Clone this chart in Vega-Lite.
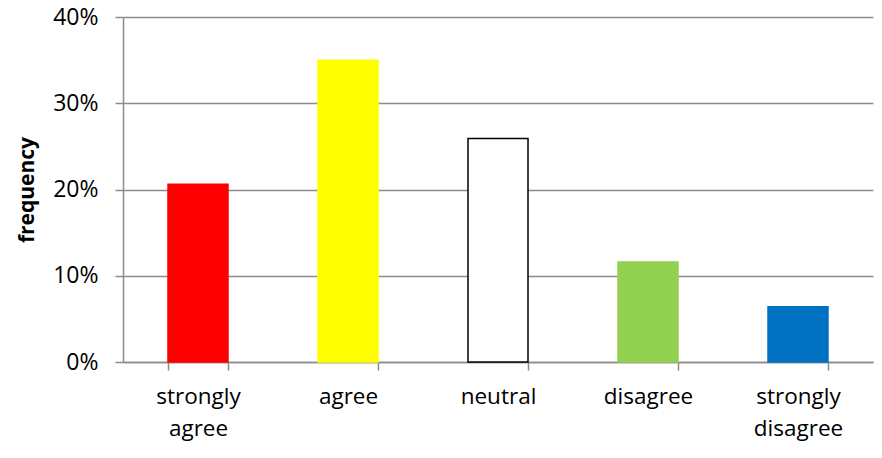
{
  "$schema": "https://vega.github.io/schema/vega-lite/v6.json",
  "width": 750,
  "height": 345,
  "autosize": "none",
  "padding": {"left": 123, "top": 17, "right": 9, "bottom": 96},
  "background": "white",
  "config": {"view": {"stroke": null}, "font": "Open Sans"},
  "data": {
    "values": [
      {"response": "strongly agree", "frequency": 0.206, "color": "#FF0000", "stroke": "#FF0000"},
      {"response": "agree", "frequency": 0.350, "color": "#FFFF00", "stroke": "#FFFF00"},
      {"response": "neutral", "frequency": 0.259, "color": "#FFFFFF", "stroke": "#000000"},
      {"response": "disagree", "frequency": 0.116, "color": "#92D050", "stroke": "#92D050"},
      {"response": "strongly disagree", "frequency": 0.064, "color": "#0070C0", "stroke": "#0070C0"}
    ]
  },
  "mark": {"type": "bar", "strokeWidth": 1.5},
  "encoding": {
    "x": {
      "field": "response",
      "type": "nominal",
      "sort": null,
      "scale": {"paddingInner": 0.6, "paddingOuter": 0.3},
      "axis": {
        "title": null,
        "labelAngle": 0,
        "labelExpr": "split(datum.label, ' ')",
        "labelFontSize": 22.5,
        "labelColor": "#000000",
        "labelFont": "Open Sans",
        "labelPadding": 15,
        "labelLineHeight": 32,
        "tickBand": "extent",
        "tickSize": 8,
        "tickColor": "#8c8c8c",
        "tickWidth": 1.5,
        "domainColor": "#8c8c8c",
        "domainWidth": 1.5,
        "grid": false
      }
    },
    "y": {
      "field": "frequency",
      "type": "quantitative",
      "scale": {"domain": [0, 0.4], "nice": false},
      "axis": {
        "title": "frequency",
        "titleFontSize": 21,
        "titleFontWeight": "bold",
        "titleColor": "#000000",
        "titleFont": "Open Sans",
        "titlePadding": 15,
        "format": ".0%",
        "values": [0, 0.1, 0.2, 0.3, 0.4],
        "labelFontSize": 23,
        "labelColor": "#000000",
        "labelFont": "Open Sans",
        "labelPadding": 17,
        "tickSize": 8,
        "tickColor": "#8c8c8c",
        "tickWidth": 1.5,
        "domainColor": "#8c8c8c",
        "domainWidth": 1.5,
        "grid": true,
        "gridColor": "#8c8c8c",
        "gridWidth": 1.5
      }
    },
    "color": {"field": "color", "type": "nominal", "scale": null, "legend": null},
    "stroke": {"field": "stroke", "type": "nominal", "scale": null, "legend": null}
  }
}
